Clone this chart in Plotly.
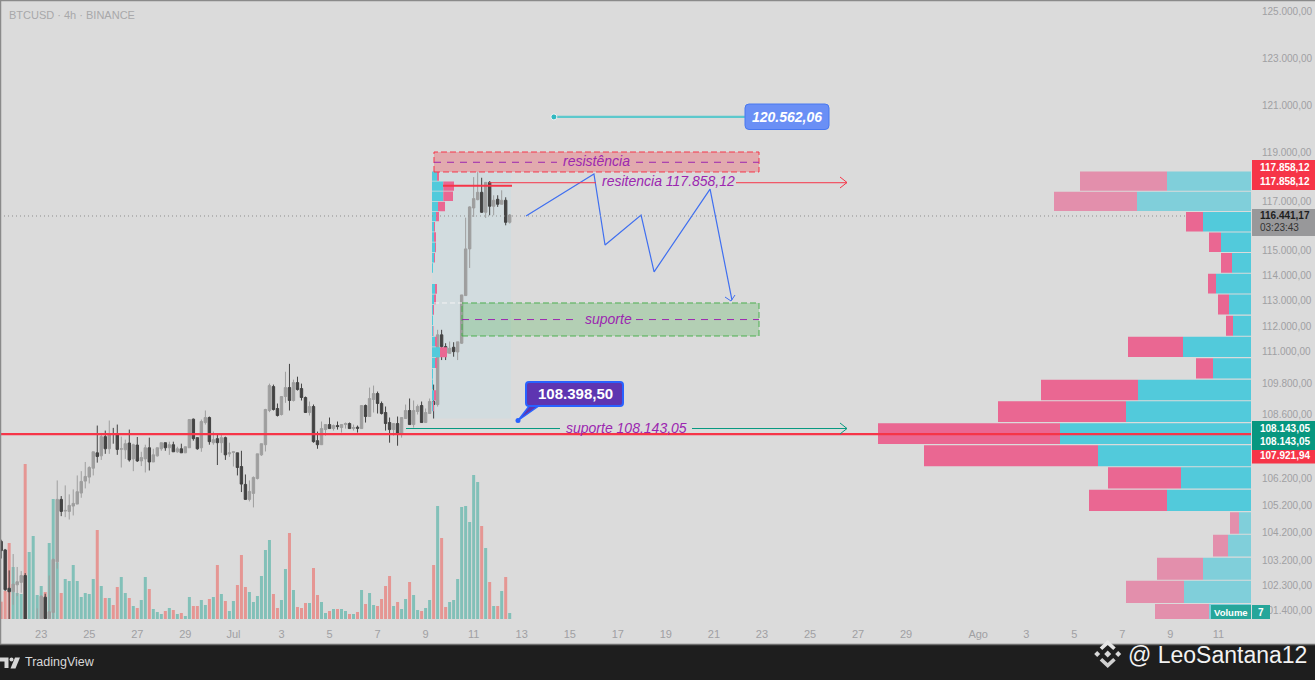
import math
import pandas as pd
import plotly.graph_objects as go

W = 1315
H = 680

# ---- candles, 4h bars
opens = [
    103890,103580,102202,102079,102325,102412,102657,100900,100500,100500,
    100800,101883,101120,101341,103150,105425,104995,104982,105179,105253,
    105659,106101,106249,106581,107155,107041,107763,107307,107877,107877,
    107290,107269,107522,106927,107446,106851,106927,107345,106813,107041,
    107307,107535,107345,107459,107193,107307,107155,107345,108422,107725,
    107345,108295,108485,107535,107687,107535,107725,107117,107168,107155,
    106643,105979,105425,105647,106200,107079,107459,108751,109664,108827,
    108599,109284,109626,109132,109816,109588,109246,108675,108903,107611,
    107459,108029,108219,108067,108181,108105,108219,108257,108067,108118,
    108067,108941,108523,109170,109398,109018,108675,108295,108029,108257,
    107877,108447,108751,108219,108713,108941,108295,108637,109093,108979,
    111665,111208,110946,111181,110998,111338,113207,115069,116728,117068,
    117367,116551,117775,116796,117082,116878,117041,116143]
highs = [
    103950,103617,102842,103432,102965,102817,102744,100950,100800,101490,
    101950,102006,102657,103272,106126,105548,105942,105610,105794,106311,
    106470,106813,106655,107193,108181,107903,107991,108371,108093,108219,
    107763,107649,108029,107497,107750,107193,107459,107725,107307,107345,
    107535,107535,107573,107573,107383,107497,107383,108409,108447,107725,
    108409,108751,108523,107953,107877,107839,107763,107535,107193,107155,
    107231,106347,106126,106274,107117,107497,108815,109778,109740,109018,
    109284,110234,110538,109930,110044,109778,109284,109093,108979,107953,
    108333,108219,108485,108219,108333,108219,108295,108295,108219,108181,
    108941,108979,109626,109702,109474,109093,108903,108485,108257,108523,
    108485,108979,109208,109132,108979,109093,108827,109208,109740,111861,
    111861,111338,111404,111377,111391,113233,116334,116796,117993,118197,
    117966,117789,117830,117245,117245,117449,117163,116480]
lows = [
    103270,102104,100900,101612,101919,102043,100800,100400,100300,100300,
    100700,101034,101100,101000,102903,104810,104773,104687,104835,105253,
    105487,105831,106015,106311,106788,106889,107117,107117,107497,107079,
    106606,106927,106826,106470,106813,106661,106421,106495,106813,107016,
    107231,107231,107079,107193,107155,107155,107155,107345,107611,107269,
    107193,108219,107459,107459,106699,107155,106889,107003,106643,106311,
    105696,105425,105351,105130,106163,107040,107206,108688,108751,108523,
    108561,109043,108751,109093,109512,109132,108675,108561,107535,107307,
    107459,107801,108067,107991,108029,107915,108067,108067,107991,107915,
    108067,108295,108523,108675,108637,108599,107991,107535,107801,107421,
    107725,108447,108219,108105,108599,108295,108295,108637,108447,108900,
    110685,110685,110946,110815,110685,111312,113207,114305,116361,117041,
    116524,116320,116429,116429,116769,116878,116021,116089]
closes = [
    103555,102153,102079,102350,102436,102657,100900,100500,100700,100800,
    101919,101120,101366,103236,105425,104982,105019,105204,105277,105708,
    106089,106274,106606,107193,107016,107763,107307,107877,107850,107282,
    107307,107497,106889,107459,106851,106978,107345,106813,107079,107345,
    107535,107345,107459,107193,107307,107155,107383,108409,107687,107307,
    108333,108485,107573,107649,107535,107725,107079,107155,107193,106606,
    105991,105425,105720,106237,107117,107497,108789,109702,108789,108561,
    109284,109626,109132,109816,109550,109246,108675,108903,107573,107459,
    108067,108219,108067,108181,108143,108219,108257,108067,108105,108080,
    108941,108523,109208,109398,109018,108637,108257,108029,108257,107877,
    108485,108751,108219,108751,108903,108295,108675,109093,108979,111665,
    111208,110946,111142,111011,111391,113233,115069,116769,117109,117367,
    116551,117775,116796,117041,116878,117041,116143,116441]

volumes = [
    52,84,228,156,78,75,465,201,249,72,
    99,81,228,360,170,78,120,114,162,114,
    66,78,75,120,267,99,63,63,42,96,
    126,78,63,39,33,57,126,90,30,21,
    15,24,33,27,15,18,9,66,39,39,
    57,42,60,66,162,75,54,24,54,102,
    192,96,81,51,69,129,207,237,75,33,
    57,150,258,87,36,33,48,48,153,72,
    51,18,24,30,30,30,24,15,15,21,
    87,45,78,42,39,60,99,129,39,51,
    30,60,111,72,27,24,33,57,162,339,
    243,36,51,57,120,336,339,291,432,411,
    279,213,111,39,39,84,126,18]
volume_sides = ("rrrtttrttt" + "trtttrtttt" + "ttttrtrtrr" + "ttrtrttrtt" + "trtrtrttrr" +
                "ttrtrtrttr" + "rrttttttrr" + "ttrtrrrtrr" + "ttrtrttrtr" +
                "trttrrrrtr" + "ttrttrttrt" + "rrtttttttt" + "rtrtrtrt")

# ---- volume profile on the right, one row per price band
profile_edges = [118240,117411,116582,115753,114924,114095,113266,112437,111608,110779,109950,
                 109121,108292,107463,106634,105805,104976,104147,103318,102489,101660,100831]
profile_up =   [84,114,48,30,19,35,22,18,68,38,113,125,191,153,70,84,12,23,48,67,42]
profile_down = [87,83,17,12,11,8,11,7,55,17,97,128,182,174,73,78,9,15,46,58,54]
profile_light = [True,True,False,False,False,False,False,False,False,False,False,
                 False,False,False,False,False,True,True,True,True,True]

# ---- small fixed range profile over the breakout
mini_edges = [118240,117825,117411,116996,116582,116167,115753,115338,114924,114509,114095,113680,
              113266,112851,112437,112022,111608,111193,110779,110364,109950,109535,109121,108706]
mini_up =   [5,11.3,11.3,6,4,2,2,3,2,1,0,3,2,1,1,1,3,8,3,1,1,2,1]
mini_down = [2,10.7,9.7,7,3,1,2,1,1,0,0,2,2,1,0,0.5,2,7,2,0,0,2,1]

# ---- projected path drawn by the author
path_dates = ["2025-07-13 04:20","2025-07-16 00:10","2025-07-16 11:15","2025-07-17 23:15",
              "2025-07-18 12:15","2025-07-20 20:10","2025-07-21 18:00"]
path_prices = [116400,118120,115225,116440,114150,117500,113035]

target_dates = ["2025-07-14 08:10","2025-07-22 07:00"]
target_prices = [120500,120500]

y_ticks = [125000,123000,121000,119000,117000,115000,114000,113000,112000,111000,
           109800,108600,106200,105200,104200,103200,102300,101400]
y_labels = ["125.000,00","123.000,00","121.000,00","119.000,00","117.000,00","115.000,00",
            "114.000,00","113.000,00","112.000,00","111.000,00","109.800,00","108.600,00",
            "106.200,00","105.200,00","104.200,00","103.200,00","102.300,00","101.400,00"]
x_tick_dates = ["2025-06-23","2025-06-25","2025-06-27","2025-06-29","2025-07-01","2025-07-03",
                "2025-07-05","2025-07-07","2025-07-09","2025-07-11","2025-07-13","2025-07-15",
                "2025-07-17","2025-07-19","2025-07-21","2025-07-23","2025-07-25","2025-07-27",
                "2025-07-29","2025-08-01","2025-08-03","2025-08-05","2025-08-07","2025-08-09",
                "2025-08-11"]
x_tick_labels = ["23","25","27","29","Jul","3","5","7","9","11","13","15","17","19","21","23",
                 "25","27","29","Ago","3","5","7","9","11"]

BG = "#dbdbdb"
TEAL = "#52cadb"
PINK = "#ea6792"
TEAL_L = "#80cfda"
PINK_L = "#e38fac"
RED = "#f63548"
GREEN_LINE = "#089981"
PURPLE = "#9c27b0"
BLUE = "#3f6ff0"
AXIS_TXT = "#a0a0a3"
FONT = "Liberation Sans"

PLOT_R = 1251
PLOT_B = 619


def px(x):
    return x / W


def py(y):
    return 1 - y / H


def path(points, close=False):
    s = "M " + " L ".join(f"{px(x)},{py(y)}" for x, y in points)
    return s + (" Z" if close else "")


def round_rect(x0, y0, x1, y1, r):
    return (f"M {px(x0 + r)},{py(y0)} L {px(x1 - r)},{py(y0)} Q {px(x1)},{py(y0)} {px(x1)},{py(y0 + r)} "
            f"L {px(x1)},{py(y1 - r)} Q {px(x1)},{py(y1)} {px(x1 - r)},{py(y1)} "
            f"L {px(x0 + r)},{py(y1)} Q {px(x0)},{py(y1)} {px(x0)},{py(y1 - r)} "
            f"L {px(x0)},{py(y0 + r)} Q {px(x0)},{py(y0)} {px(x0 + r)},{py(y0)} Z")


def rows_xy(edges, starts, ends, keep, gap):
    xs, ys = [], []
    for k in range(len(starts)):
        if not keep[k] or ends[k] == starts[k]:
            continue
        top = edges[k] - gap
        bot = edges[k + 1] + gap
        xs += [starts[k], ends[k], ends[k], starts[k], starts[k], None]
        ys += [top, top, bot, bot, top, None]
    return xs, ys


dates = pd.date_range("2025-06-21 08:00", periods=len(opens), freq="4h")

fig = go.Figure()

fig.add_trace(go.Bar(
    x=dates, y=volumes, width=3 * 3600 * 1000,
    marker=dict(color=["#82c0b8" if s == "t" else "#e59693" for s in volume_sides], line_width=0),
    xaxis="x", yaxis="y", hoverinfo="skip"))

fig.add_trace(go.Candlestick(
    x=dates, open=opens, high=highs, low=lows, close=closes,
    increasing=dict(line=dict(color="#9e9e9e", width=1), fillcolor="#9e9e9e"),
    decreasing=dict(line=dict(color="#434343", width=1), fillcolor="#434343"),
    whiskerwidth=0, xaxis="x", yaxis="y2", hoverinfo="skip"))

# right hand profile
up_end = profile_up
down_end = [u + d for u, d in zip(profile_up, profile_down)]
zeros = [0] * len(profile_up)
not_light = [not v for v in profile_light]
for starts, ends, keep, color in [
    (zeros, up_end, not_light, TEAL),
    (up_end, down_end, not_light, PINK),
    (zeros, up_end, profile_light, TEAL_L),
    (up_end, down_end, profile_light, PINK_L),
]:
    xs, ys = rows_xy(profile_edges, starts, ends, keep, 20)
    fig.add_trace(go.Scatter(x=xs, y=ys, mode="none", fill="toself", fillcolor=color,
                             xaxis="x2", yaxis="y2", hoverinfo="skip"))

# small profile
mini_keep = [True] * len(mini_up)
mini_zero = [0] * len(mini_up)
mini_end = [u + d for u, d in zip(mini_up, mini_down)]
for starts, ends, color in [(mini_zero, mini_up, TEAL), (mini_up, mini_end, PINK)]:
    xs, ys = rows_xy(mini_edges, starts, ends, mini_keep, 15)
    fig.add_trace(go.Scatter(x=xs, y=ys, mode="none", fill="toself", fillcolor=color,
                             xaxis="x3", yaxis="y2", hoverinfo="skip"))

fig.add_trace(go.Scatter(x=path_dates, y=path_prices, mode="lines",
                         line=dict(color=BLUE, width=1.2), xaxis="x", yaxis="y2", hoverinfo="skip"))
fig.add_trace(go.Scatter(x=target_dates, y=target_prices, mode="lines",
                         line=dict(color="#5cc8cc", width=2.2), xaxis="x", yaxis="y2", hoverinfo="skip"))
fig.add_trace(go.Scatter(x=target_dates[:1], y=target_prices[:1], mode="markers",
                         marker=dict(color="#2fb8c0", size=6, line=dict(color="#f2f2f2", width=1)),
                         xaxis="x", yaxis="y2", hoverinfo="skip"))

shapes = []


def hline(x0, x1, price, color, width=1, dash="solid"):
    shapes.append(dict(type="line", xref="paper", yref="y2", x0=px(x0), x1=px(x1), y0=price, y1=price,
                       line=dict(color=color, width=width, dash=dash), layer="above"))


def zone(x0, x1, top, bot, fill, border):
    shapes.append(dict(type="rect", xref="paper", yref="y2", x0=px(x0), x1=px(x1), y0=bot, y1=top,
                       fillcolor=fill, line=dict(color=border, width=1, dash="6px,3px"), layer="above"))


# shaded box behind the breakout
shapes.append(dict(type="rect", xref="paper", yref="y2", x0=px(432), x1=px(511), y0=108450, y1=118280,
                   fillcolor="#d2dcdf", line_width=0, layer="below"))

hline(0, 1186, 116400, "#8f8f8f", 1, "1px,3px")

zone(434, 759, 119032, 118204, "#e2aaae", RED)
hline(434, 557, 118605, PURPLE, 1, "7px,6px")
hline(636, 759, 118605, PURPLE, 1, "7px,6px")
zone(462, 759, 112915, 111620, "rgba(76,175,80,0.28)", "#4caf50")
hline(462, 578, 112263, PURPLE, 1, "7px,6px")
hline(636, 759, 112263, PURPLE, 1, "7px,6px")
hline(434, 462, 112915, "#f4f4f4", 1, "5px,3px")

hline(489, 596, 117761, RED, 1)
hline(736, 847, 117761, RED, 1)
hline(443, 512, 117640, RED, 2)
hline(406, 560, 108069, GREEN_LINE, 1)
hline(692, 847, 108069, GREEN_LINE, 1)
hline(0, PLOT_R, 107860, RED, 2.2)

for pts, color in [([(840, 177), (847, 182.5), (840, 188)], RED),
                   ([(840, 423), (847, 428.5), (840, 434)], GREEN_LINE),
                   ([(725, 297), (731, 301), (735, 295)], BLUE)]:
    shapes.append(dict(type="path", xref="paper", yref="paper", path=path(pts),
                       line=dict(color=color, width=1), layer="above"))

# callout
shapes.append(dict(type="path", xref="paper", yref="paper",
                   path=path([(530, 405), (518, 420.5), (540, 405)], True),
                   fillcolor="#5e35b1", line=dict(color="#2962ff", width=1.5), layer="above"))
shapes.append(dict(type="path", xref="paper", yref="paper", path=round_rect(526, 382, 623, 406, 3),
                   fillcolor="#5e35b1", line=dict(color="#2962ff", width=2), layer="above"))
shapes.append(dict(type="circle", xref="paper", yref="paper", x0=px(515.5), x1=px(520.5), y0=py(418), y1=py(423),
                   fillcolor="#2962ff", line_width=0, layer="above"))
shapes.append(dict(type="path", xref="paper", yref="paper", path=round_rect(745, 104, 829, 129.5, 4),
                   fillcolor="#6a8ff5", line=dict(color="#4878f0", width=1), layer="above"))

# price tags
for x0, y0, x1, y1, color in [(1252, 160, 1315, 190, RED), (1252, 209, 1315, 236, "#98989a"),
                              (1252, 421, 1315, 450, "#079780"), (1252, 450, 1315, 463.5, RED),
                              (1211, 605, 1251, 619, "#26a69a"), (1252, 605, 1270, 619, "#26a69a")]:
    shapes.append(dict(type="rect", xref="paper", yref="paper", x0=px(x0), x1=px(x1), y0=py(y0), y1=py(y1),
                       fillcolor=color, line_width=0, layer="above"))

# frame and footer
shapes.append(dict(type="rect", xref="paper", yref="paper", x0=0, x1=1, y0=0, y1=py(645),
                   fillcolor="#1e1e1e", line_width=0, layer="above"))
shapes.append(dict(type="line", xref="paper", yref="paper", x0=0, x1=1, y0=py(644.5), y1=py(644.5),
                   line=dict(color="#6e6e6e", width=1.5), layer="above"))
shapes.append(dict(type="line", xref="paper", yref="paper", x0=px(0.5), x1=px(0.5), y0=py(0), y1=py(644),
                   line=dict(color="#8a8a8a", width=1.5), layer="above"))
shapes.append(dict(type="line", xref="paper", yref="paper", x0=0, x1=1, y0=py(0.5), y1=py(0.5),
                   line=dict(color="#8a8a8a", width=1.5), layer="above"))

# TradingView mark
for pts in [[(0, 657.5), (8.5, 657.5), (8.5, 668), (4.5, 668), (4.5, 661.5), (0, 661.5)],
            [(15, 657.5), (20, 657.5), (15.5, 668.5), (10.5, 668.5)]]:
    shapes.append(dict(type="path", xref="paper", yref="paper", path=path(pts, True),
                       fillcolor="#d6d6d6", line_width=0, layer="above"))
shapes.append(dict(type="circle", xref="paper", yref="paper", x0=px(9.5), x1=px(13.5), y0=py(657.5), y1=py(661.5),
                   fillcolor="#d6d6d6", line_width=0, layer="above"))

# Binance mark
cx, cy = 1107.7, 654
for pts, color in [
    ([(cx, cy - 14), (cx + 8, cy - 6.5), (cx + 5.5, cy - 4), (cx, cy - 9), (cx - 5.5, cy - 4), (cx - 8, cy - 6.5)], "#e6e6e6"),
    ([(cx, cy + 14), (cx + 8, cy + 6.5), (cx + 5.5, cy + 4), (cx, cy + 9), (cx - 5.5, cy + 4), (cx - 8, cy + 6.5)], "#d0d0d0"),
    ([(cx, cy - 3.5), (cx + 3.5, cy), (cx, cy + 3.5), (cx - 3.5, cy)], "#d8d8d8"),
    ([(cx - 10.5, cy - 3), (cx - 7.5, cy), (cx - 10.5, cy + 3), (cx - 13.5, cy)], "#d8d8d8"),
    ([(cx + 10.5, cy - 3), (cx + 13.5, cy), (cx + 10.5, cy + 3), (cx + 7.5, cy)], "#d8d8d8"),
]:
    shapes.append(dict(type="path", xref="paper", yref="paper", path=path(pts, True),
                       fillcolor=color, line_width=0, layer="above"))

annotations = []


def label(x, y, text, color, size=10, anchor="center", bold=False, italic=False, font=FONT):
    t = f"<b>{text}</b>" if bold else text
    t = f"<i>{t}</i>" if italic else t
    annotations.append(dict(xref="paper", yref="paper", x=px(x), y=py(y), text=t, showarrow=False,
                            xanchor=anchor, yanchor="middle", borderpad=0,
                            font=dict(family=font, size=size, color=color)))


label(8, 15, "BTCUSD · 4h · BINANCE", "#a8a8aa", 11, "left")
label(596.5, 160.5, "resistência", PURPLE, 14, italic=True)
label(668.5, 181.5, "resitencia 117.858,12", PURPLE, 14, italic=True)
label(608, 318.5, "suporte", PURPLE, 14, italic=True)
label(626.5, 427.5, "suporte 108.143,05", PURPLE, 14, italic=True)
label(575, 393.5, "108.398,50", "#ffffff", 15, bold=True)
label(787, 117, "120.562,06", "#ffffff", 14, bold=True, italic=True)

label(1259, 167, "117.858,12", "#ffffff", 10, "left", bold=True)
label(1259, 182, "117.858,12", "#ffffff", 10, "left", bold=True)
label(1259, 215, "116.441,17", "#1e1e1e", 10, "left", bold=True)
label(1259, 228, "03:23:43", "#333333", 10, "left")
label(1259, 428, "108.143,05", "#ffffff", 10, "left", bold=True)
label(1259, 441, "108.143,05", "#ffffff", 10, "left", bold=True)
label(1259, 456, "107.921,94", "#ffffff", 10, "left", bold=True)
label(1231, 612.5, "Volume", "#ffffff", 9.5, bold=True)
label(1261, 612.5, "7", "#ffffff", 10, bold=True)
label(24, 662, "TradingView", "#d8d8d8", 12.5, "left")
label(1127, 654.5, "@ LeoSantana12", "#f2f2f2", 23, "left")

fig.update_layout(
    width=W, height=H,
    margin=dict(l=0, r=0, t=0, b=0),
    paper_bgcolor=BG, plot_bgcolor=BG,
    showlegend=False,
    barmode="overlay",
    boxgap=0.2, boxgroupgap=0.25,
    hovermode=False,
    shapes=shapes,
    annotations=annotations,
    xaxis=dict(
        type="date",
        domain=[0, PLOT_R / W],
        range=["2025-06-21 06:50", "2025-08-12 08:33"],
        tickmode="array", tickvals=x_tick_dates, ticktext=x_tick_labels,
        tickangle=0, ticks="", ticklabelstandoff=7,
        tickfont=dict(family=FONT, size=11, color=AXIS_TXT),
        showgrid=False, zeroline=False, showline=False, fixedrange=True,
        rangeslider=dict(visible=False),
    ),
    xaxis2=dict(domain=[0, PLOT_R / W], range=[PLOT_R, 0], overlaying="x", anchor="y2", visible=False, fixedrange=True),
    xaxis3=dict(domain=[0, PLOT_R / W], range=[-432, PLOT_R - 432], overlaying="x", anchor="y2", visible=False, fixedrange=True),
    yaxis=dict(domain=[(H - PLOT_B) / H, 1], range=[0, 1857], visible=False, fixedrange=True),
    yaxis2=dict(
        type="log",
        overlaying="y",
        side="right",
        anchor="x",
        range=[math.log10(101110), math.log10(125525)],
        tickmode="array", tickvals=y_ticks, ticktext=y_labels,
        ticks="", ticklabelstandoff=10,
        tickfont=dict(family=FONT, size=10, color=AXIS_TXT),
        showgrid=False, zeroline=False, showline=False, fixedrange=True,
    ),
)

fig.write_html("out.html", config=dict(displayModeBar=False),
               post_script="document.body.style.margin='0';document.body.style.overflow='hidden';")
